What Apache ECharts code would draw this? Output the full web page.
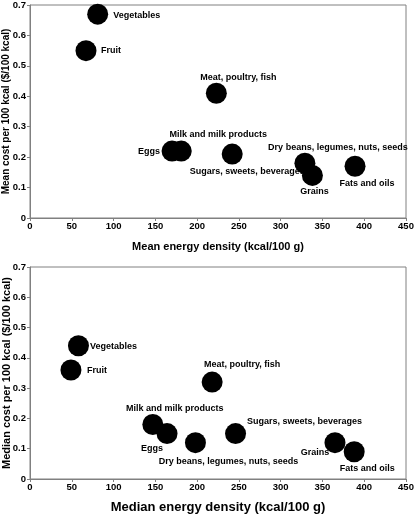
<!DOCTYPE html>
<html>
<head>
<meta charset="utf-8">
<script src="https://cdn.jsdelivr.net/npm/echarts@6/dist/echarts.min.js"></script>
<style>
  html, body { margin: 0; padding: 0; background: #fff; }
  #chart { width: 415px; height: 517px; }
</style>
</head>
<body>
<div id="chart"></div>
<script>
// ---- Data ----
const foodGroups = ['Vegetables', 'Fruit', 'Meat, poultry, fish', 'Milk and milk products', 'Eggs',
  'Sugars, sweets, beverages', 'Dry beans, legumes, nuts, seeds', 'Grains', 'Fats and oils'];
const meanEnergyDensity = [81, 67, 223, 181, 170, 242, 329, 338, 389];
const meanCost = [0.67, 0.55, 0.41, 0.22, 0.22, 0.21, 0.18, 0.14, 0.17];
const medianEnergyDensity = [58, 49, 218, 147, 164, 246, 198, 365, 388];
const medianCost = [0.44, 0.36, 0.32, 0.18, 0.15, 0.15, 0.12, 0.12, 0.09];
const xTicks = [0, 50, 100, 150, 200, 250, 300, 350, 400, 450];
const yTicks = [0, 0.1, 0.2, 0.3, 0.4, 0.5, 0.6, 0.7];

// ---- Label placement (style only) ----
const topLabelOffsets = {
  'Vegetables': [39, 1], 'Fruit': [25, 0], 'Meat, poultry, fish': [22, -16],
  'Milk and milk products': [37, -17], 'Eggs': [-23, 0], 'Sugars, sweets, beverages': [15, 17],
  'Dry beans, legumes, nuts, seeds': [33, -16], 'Grains': [2, 16], 'Fats and oils': [12, 17]
};
const bottomLabelOffsets = {
  'Vegetables': [35, 1], 'Fruit': [26, 1], 'Meat, poultry, fish': [30, -18],
  'Milk and milk products': [22, -16], 'Eggs': [-15, 15], 'Sugars, sweets, beverages': [69, -12],
  'Dry beans, legumes, nuts, seeds': [33, 19], 'Grains': [-20, 10], 'Fats and oils': [13, 17]
};
const topFront = ['Dry beans, legumes, nuts, seeds', 'Grains', 'Fats and oils'];
const bottomFront = ['Grains', 'Fats and oils'];

const FONT = '"Liberation Sans", Arial, sans-serif';
const GRAY = '#808080';

function buildData(xs, ys, offsets, front, wantFront) {
  const out = [];
  foodGroups.forEach((name, i) => {
    if (front.includes(name) !== wantFront) return;
    out.push({
      name: name,
      value: [xs[i], ys[i]],
      label: { offset: offsets[name] }
    });
  });
  return out;
}

function scatterSeries(idx, data, z) {
  return {
    type: 'scatter',
    xAxisIndex: idx, yAxisIndex: idx,
    symbol: 'circle', symbolSize: 21, z: z,
    itemStyle: { color: '#000', opacity: 1 },
    emphasis: { disabled: true },
    label: {
      show: true, position: 'inside', align: 'center', verticalAlign: 'middle',
      formatter: '{b}', color: '#000', fontSize: 9, fontWeight: 'bold', fontFamily: FONT
    },
    data: data
  };
}

function xAxis(idx, name, nameSize, gap) {
  return {
    type: 'value', gridIndex: idx, min: xTicks[0], max: xTicks[xTicks.length - 1],
    interval: xTicks[1] - xTicks[0],
    name: name, nameLocation: 'middle', nameGap: gap, nameMoveOverlap: false,
    nameTextStyle: { color: '#000', fontSize: nameSize, fontWeight: 'bold', fontFamily: FONT },
    axisLine: { show: true, lineStyle: { color: GRAY, width: 1 } },
    axisTick: { show: true, length: 3, lineStyle: { color: GRAY } },
    axisLabel: { color: '#000', fontSize: 9.5, fontWeight: 'bold', fontFamily: FONT, margin: 3 },
    splitLine: { show: false }
  };
}

function yAxis(idx, name, nameSize, gap) {
  return {
    type: 'value', gridIndex: idx, min: yTicks[0], max: yTicks[yTicks.length - 1],
    interval: 0.1,
    name: name, nameLocation: 'middle', nameGap: gap, nameRotate: 90, nameMoveOverlap: false,
    nameTextStyle: { color: '#000', fontSize: nameSize, fontWeight: 'bold', fontFamily: FONT },
    axisLine: { show: true, lineStyle: { color: GRAY, width: 1 } },
    axisTick: { show: true, length: 3, lineStyle: { color: GRAY } },
    axisLabel: {
      color: '#000', fontSize: 9.5, fontWeight: 'bold', fontFamily: FONT, margin: 4,
      formatter: v => String(Math.round(v * 10) / 10)
    },
    splitLine: { show: false }
  };
}

const chart = echarts.init(document.getElementById('chart'), null, { renderer: 'canvas' });
chart.setOption({
  animation: false,
  backgroundColor: '#fff',
  grid: [
    { left: 30, right: 9, top: 5, height: 213, outerBoundsMode: 'none', containLabel: false,
      show: true, borderColor: GRAY, borderWidth: 1, backgroundColor: 'transparent' },
    { left: 30, right: 9, top: 267, height: 212, outerBoundsMode: 'none', containLabel: false,
      show: true, borderColor: GRAY, borderWidth: 1, backgroundColor: 'transparent' }
  ],
  xAxis: [
    xAxis(0, 'Mean energy density (kcal/100 g)', 11, 23),
    xAxis(1, 'Median energy density (kcal/100 g)', 13, 22)
  ],
  yAxis: [
    yAxis(0, 'Mean cost per 100 kcal ($/100 kcal)', 10, 19),
    yAxis(1, 'Median cost per 100 kcal ($/100 kcal)', 11, 18)
  ],
  series: [
    scatterSeries(0, buildData(meanEnergyDensity, meanCost, topLabelOffsets, topFront, false), 2),
    scatterSeries(0, buildData(meanEnergyDensity, meanCost, topLabelOffsets, topFront, true), 3),
    scatterSeries(1, buildData(medianEnergyDensity, medianCost, bottomLabelOffsets, bottomFront, false), 2),
    scatterSeries(1, buildData(medianEnergyDensity, medianCost, bottomLabelOffsets, bottomFront, true), 3)
  ]
});
</script>
</body>
</html>
